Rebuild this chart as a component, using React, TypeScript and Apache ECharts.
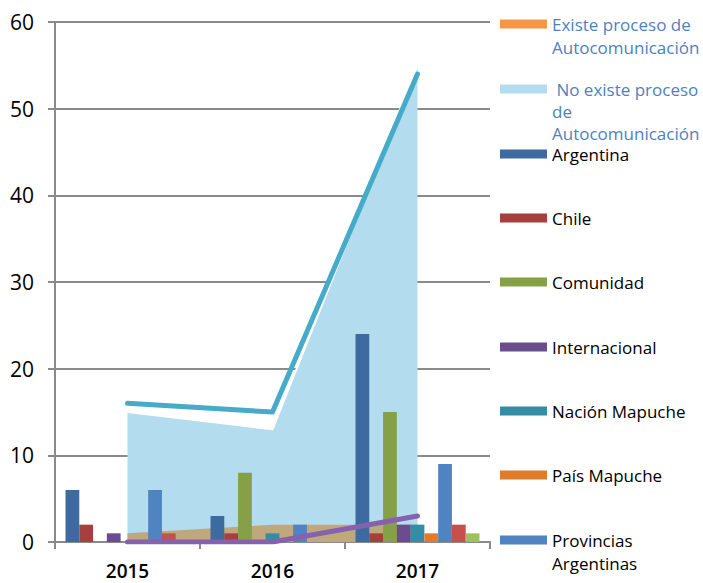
import React, { useEffect, useRef } from "react";
import * as echarts from "echarts";

const categories = ["2015", "2016", "2017"];
const yTicks = { min: 0, max: 60, interval: 10 };

const noExisteArea = [15, 13, 55];
const existeArea = [1, 2, 2];
const totalLine = [16, 15, 54];
const internacionalLine = [0, 0, 3];

const argentina = [6, 3, 24];
const chile = [2, 1, 1];
const comunidad = [0, 8, 15];
const internacional = [1, 0, 2];
const nacionMapuche = [0, 1, 2];
const paisMapuche = [0, 0, 1];
const provinciasArgentinas = [6, 2, 9];
const serie8 = [1, 0, 2];
const serie9 = [0, 0, 1];

const barSeries = [
  { name: "Argentina", data: argentina, color: "#3D6A9F" },
  { name: "Chile", data: chile, color: "#A6403D" },
  { name: "Comunidad", data: comunidad, color: "#85A047" },
  { name: "Internacional", data: internacional, color: "#6B4D8D" },
  { name: "Nación Mapuche", data: nacionMapuche, color: "#348DA5" },
  { name: "País Mapuche", data: paisMapuche, color: "#DE7C2C" },
  { name: "Provincias Argentinas", data: provinciasArgentinas, color: "#4F83C2" },
  { name: "Serie 8", data: serie8, color: "#C8504C" },
  { name: "Serie 9", data: serie9, color: "#9DC25A" },
];

const EXISTE = "Existe proceso de Autocomunicación";
const NOEXISTE = "No existe proceso de Autocomunicación";

const legendItems = [
  { name: EXISTE, label: "Existe proceso de\nAutocomunicación", y: 24, lh: 23.5, color: "#4F81BD", icon: "#F79646" },
  { name: NOEXISTE, label: " No existe proceso\nde\nAutocomunicación", y: 89, lh: 22, color: "#4F81BD", icon: "#B4DCEF" },
  { name: "Argentina", label: "Argentina", y: 154, lh: 22, color: "#000", icon: "#3D6A9F" },
  { name: "Chile", label: "Chile", y: 218, lh: 22, color: "#000", icon: "#A6403D" },
  { name: "Comunidad", label: "Comunidad", y: 282, lh: 22, color: "#000", icon: "#85A047" },
  { name: "Internacional", label: "Internacional", y: 347, lh: 22, color: "#000", icon: "#6B4D8D" },
  { name: "Nación Mapuche", label: "Nación Mapuche", y: 411, lh: 22, color: "#000", icon: "#348DA5" },
  { name: "País Mapuche", label: "País Mapuche", y: 475, lh: 22, color: "#000", icon: "#DE7C2C" },
  { name: "Provincias Argentinas", label: "Provincias\nArgentinas", y: 540, lh: 23.5, color: "#000", icon: "#4F83C2" },
];

const FONT = "'Open Sans', 'Noto Sans', sans-serif";

export default function App() {
  const ref = useRef<HTMLDivElement>(null);
  useEffect(() => {
    if (!ref.current) return;
    const chart = echarts.init(ref.current, undefined, { renderer: "svg" });
    const legends = legendItems.map((it) => {
      const n = it.label.split("\n").length;
      const boxH = (2 * n - 1) * it.lh;
      const text = " \n".repeat(n - 1) + it.label;
      return {
        show: true,
        left: 500,
        top: it.y - boxH / 2,
        padding: 0,
        orient: "vertical",
        itemWidth: 47,
        itemHeight: 9,
        icon: "rect",
        selectedMode: false,
        data: [{ name: it.name, itemStyle: { color: it.icon }, icon: "rect" }],
        formatter: () => text,
        textStyle: {
          fontFamily: FONT,
          fontSize: 17,
          color: it.color,
          lineHeight: it.lh,
        },
      };
    });
    chart.setOption({
      animation: false,
      backgroundColor: "#fff",
      grid: { left: 55, right: 213, top: 22, bottom: 41, containLabel: false },
      legend: legends,
      xAxis: {
        type: "category",
        data: categories,
        boundaryGap: true,
        axisLine: { show: true, lineStyle: { color: "#8A8A8A", width: 2 } },
        axisTick: { show: true, length: 7, lineStyle: { color: "#8A8A8A", width: 2 } },
        axisLabel: { fontFamily: FONT, fontSize: 19, lineHeight: 19, color: "#000", margin: 19, fontWeight: 600 },
        splitLine: { show: false },
      },
      yAxis: {
        type: "value",
        min: yTicks.min,
        max: yTicks.max,
        interval: yTicks.interval,
        axisLine: { show: true, lineStyle: { color: "#8A8A8A", width: 2 } },
        axisTick: { show: true, length: 7, lineStyle: { color: "#8A8A8A", width: 2 } },
        axisLabel: { fontFamily: FONT, fontSize: 21, color: "#000", margin: 21 },
        splitLine: { show: true, lineStyle: { color: "#8A8A8A", width: 2 } },
      },
      series: [
        {
          name: NOEXISTE,
          type: "line",
          data: noExisteArea,
          symbol: "none",
          z: 1,
          lineStyle: { color: "#ffffff", width: 2 },
          itemStyle: { color: "#B4DCEF" },
          areaStyle: { color: "#B4DCEF", opacity: 1 },
        },
        {
          name: EXISTE,
          type: "line",
          data: existeArea,
          symbol: "none",
          z: 2,
          lineStyle: { width: 0 },
          itemStyle: { color: "#BFA87C" },
          areaStyle: { color: "#BFA87C", opacity: 1 },
        },
        ...barSeries.map((s) => ({
          name: s.name,
          type: "bar",
          data: s.data,
          z: 3,
          barGap: "0%",
          barCategoryGap: "14.5%",
          itemStyle: { color: s.color },
        })),
        {
          name: "Total",
          type: "line",
          data: totalLine,
          symbol: "none",
          z: 4,
          lineStyle: { color: "#45ABC8", width: 5, cap: "round", join: "round" },
          itemStyle: { color: "#45ABC8" },
        },
        {
          name: "Internacional (línea)",
          type: "line",
          data: internacionalLine,
          symbol: "none",
          z: 4,
          lineStyle: { color: "#8662AE", width: 5, cap: "round", join: "round" },
          itemStyle: { color: "#8662AE" },
        },
      ],
    });
    return () => chart.dispose();
  }, []);
  return (
    <div
      ref={ref}
      style={{ position: "fixed", left: 0, top: 0, width: 703, height: 583 }}
    />
  );
}
